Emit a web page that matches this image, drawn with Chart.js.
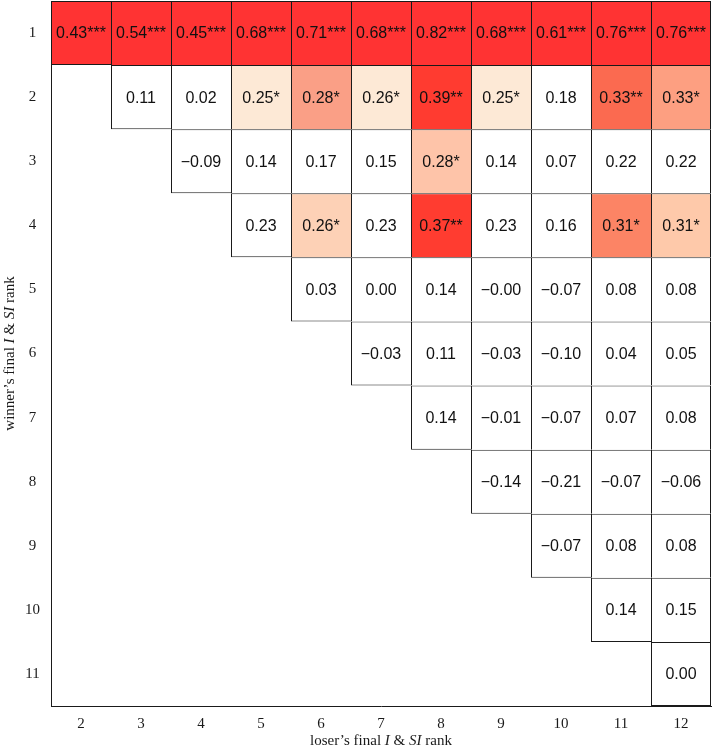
<!DOCTYPE html>
<html>
<head>
<meta charset="utf-8">
<script src="https://cdn.jsdelivr.net/npm/chart.js@4.4.0/dist/chart.umd.min.js"></script>
<style>
  html, body { margin: 0; padding: 0; background: #fff; }
  #wrap { width: 713px; height: 750px; }
</style>
</head>
<body>
<div id="wrap"><canvas id="corrChart" width="713" height="750"></canvas></div>
<script>
// loser rank on x, winner rank on y
const loserRanks = ['2', '3', '4', '5', '6', '7', '8', '9', '10', '11', '12'];
const winnerRanks = [1, 2, 3, 4, 5, 6, 7, 8, 9, 10, 11];

// correlation values, one row per winner rank (starting at loser rank = winner + 1)
const row1 = [0.43, 0.54, 0.45, 0.68, 0.71, 0.68, 0.82, 0.68, 0.61, 0.76, 0.76];
const row2 = [0.11, 0.02, 0.25, 0.28, 0.26, 0.39, 0.25, 0.18, 0.33, 0.33];
const row3 = [-0.09, 0.14, 0.17, 0.15, 0.28, 0.14, 0.07, 0.22, 0.22];
const row4 = [0.23, 0.26, 0.23, 0.37, 0.23, 0.16, 0.31, 0.31];
const row5 = [0.03, 0.00, 0.14, -0, -0.07, 0.08, 0.08];
const row6 = [-0.03, 0.11, -0.03, -0.10, 0.04, 0.05];
const row7 = [0.14, -0.01, -0.07, 0.07, 0.08];
const row8 = [-0.14, -0.21, -0.07, -0.06];
const row9 = [-0.07, 0.08, 0.08];
const row10 = [0.14, 0.15];
const row11 = [0.00];
const corrRows = [row1, row2, row3, row4, row5, row6, row7, row8, row9, row10, row11];

// significance stars per cell
const stars1 = [3, 3, 3, 3, 3, 3, 3, 3, 3, 3, 3];
const stars2 = [0, 0, 1, 1, 1, 2, 1, 0, 2, 1];
const stars3 = [0, 0, 0, 0, 1, 0, 0, 0, 0];
const stars4 = [0, 1, 0, 2, 0, 0, 1, 1];
const starRows = [stars1, stars2, stars3, stars4];

// cell fill colours ("winner,loser"), everything else is white
const cellShades = {
    '2,5': '#fde9d6', '2,6': '#fa9f86', '2,7': '#fde9d6', '2,8': '#ff3b30',
    '2,9': '#fde9d6', '2,11': '#fb6a50', '2,12': '#fd9f81',
    '3,8': '#fec4a9',
    '4,6': '#fdd1b6', '4,8': '#ff3c30', '4,11': '#fc8465', '4,12': '#fec9aa'
};
const topShade = '#ff3333';
const lineColor = '#1a1a1a';

function fmt(v) {
    const neg = v < 0 || Object.is(v, -0);
    return (neg ? '\u2212' : '') + Math.abs(v).toFixed(2);
}

const datasets = winnerRanks.map((w, i) => ({
    label: 'rank ' + w,
    data: loserRanks.map((c, j) => (j >= i ? [w - 0.5, w + 0.5] : null)),
    backgroundColor: ctx => {
        if (w === 1) return topShade;
        return cellShades[w + ',' + loserRanks[ctx.dataIndex]] || '#ffffff';
    },
    borderColor: lineColor,
    borderWidth: ctx => ({
        top: 1,
        left: 1,
        right: ctx.dataIndex === loserRanks.length - 1 ? 1 : 0,
        bottom: ctx.dataIndex === i ? 1 : 0
    }),
    borderSkipped: false,
    inflateAmount: 0,
    barPercentage: 1,
    categoryPercentage: 1,
    grouped: false
}));

// value text in every cell
const cellText = {
    id: 'cellText',
    afterDatasetsDraw(chart) {
        const c = chart.ctx;
        c.save();
        c.font = '16px "Liberation Sans", Arial, sans-serif';
        c.fillStyle = '#111';
        c.textAlign = 'center';
        c.textBaseline = 'middle';
        chart.data.datasets.forEach((ds, i) => {
            const meta = chart.getDatasetMeta(i);
            meta.data.forEach((el, j) => {
                if (!ds.data[j]) return;
                const k = j - i;
                const v = corrRows[i][k];
                const s = starRows[i] ? starRows[i][k] : 0;
                const txt = fmt(v) + '*'.repeat(s);
                c.fillText(txt, el.x, (el.y + el.base) / 2 + 1);
            });
        });
        c.restore();
    }
};

// axis titles with italic parts
function drawRich(c, parts, x, y) {
    const fontOf = p => (p.i ? 'italic ' : '') + '15px "Liberation Serif", "Times New Roman", serif';
    let total = 0;
    parts.forEach(p => { c.font = fontOf(p); total += c.measureText(p.t).width; });
    let cx = x - total / 2;
    parts.forEach(p => {
        c.font = fontOf(p);
        c.fillText(p.t, cx, y);
        cx += c.measureText(p.t).width;
    });
}

const axisTitles = {
    id: 'axisTitles',
    afterDraw(chart) {
        const c = chart.ctx;
        const a = chart.chartArea;
        c.save();
        c.fillStyle = lineColor;
        c.textAlign = 'left';
        c.textBaseline = 'middle';
        drawRich(c, [{ t: 'loser\u2019s final ' }, { t: 'I', i: true }, { t: ' & ' }, { t: 'SI', i: true }, { t: ' rank' }],
            (a.left + a.right) / 2, 741);
        c.translate(10, (a.top + a.bottom) / 2);
        c.rotate(-Math.PI / 2);
        drawRich(c, [{ t: 'winner\u2019s final ' }, { t: 'I', i: true }, { t: ' & ' }, { t: 'SI', i: true }, { t: ' rank' }], 0, 0);
        c.restore();
    }
};

const tickFont = { family: '"Liberation Serif", "Times New Roman", serif', size: 15 };

new Chart(document.getElementById('corrChart'), {
    type: 'bar',
    data: { labels: loserRanks, datasets: datasets },
    options: {
        responsive: false,
        animation: false,
        layout: { padding: { top: 1, right: 2, left: 0, bottom: 0 } },
        plugins: {
            legend: { display: false },
            tooltip: { enabled: false }
        },
        scales: {
            x: {
                type: 'category',
                offset: true,
                grid: { display: false, drawTicks: false },
                border: { display: true, color: lineColor, width: 1 },
                ticks: { font: tickFont, color: lineColor, padding: 9 },
                afterFit: s => { s.height = 44; s.paddingLeft = 0; s.paddingRight = 0; }
            },
            y: {
                type: 'linear',
                min: 0.5,
                max: 11.5,
                reverse: true,
                afterBuildTicks: s => { s.ticks = winnerRanks.map(v => ({ value: v })); },
                grid: { display: false, drawTicks: false },
                border: { display: true, color: lineColor, width: 1 },
                ticks: { font: tickFont, color: lineColor, padding: 11, crossAlign: 'center' },
                afterFit: s => { s.width = 51; s.paddingTop = 0; s.paddingBottom = 0; }
            }
        }
    },
    plugins: [cellText, axisTitles]
});
</script>
</body>
</html>
